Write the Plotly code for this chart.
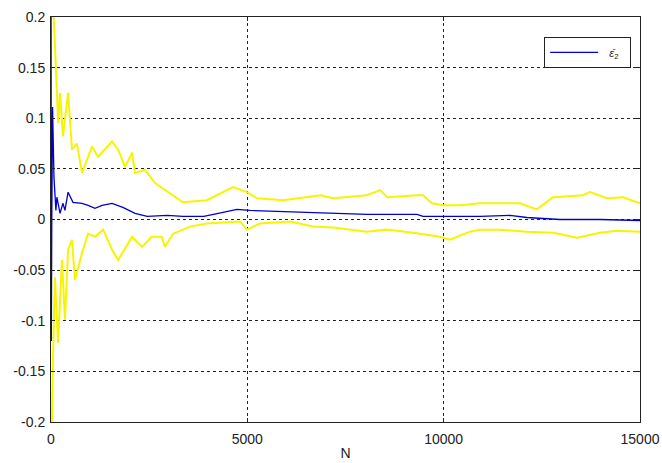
import plotly.graph_objects as go

# ---- data ----
upper_n = [1, 40, 70, 120, 185, 230, 305, 435, 535, 660, 790, 1045, 1195, 1555, 1710, 1885, 2065, 2140,
           2395, 2650, 3360, 3970, 4635, 4990, 5245, 5910, 6520, 6860, 7190, 8045, 8380, 8560, 9320, 9475,
           9700, 9985, 10415, 10925, 11945, 12375, 12785, 13550, 13725, 14160, 14570, 15000]
upper_y = [0.6, 0.25, 0.2, 0.158, 0.095, 0.125, 0.082, 0.125, 0.069, 0.075, 0.046, 0.072, 0.062, 0.077,
           0.069, 0.052, 0.066, 0.046, 0.049, 0.036, 0.017, 0.019, 0.032, 0.027, 0.021, 0.019, 0.022, 0.024,
           0.021, 0.024, 0.029, 0.022, 0.024, 0.024, 0.016, 0.014, 0.014, 0.016, 0.016, 0.010, 0.022, 0.024,
           0.027, 0.021, 0.022, 0.016]

lower_n = [1, 25, 50, 100, 180, 280, 355, 435, 535, 610, 790, 945, 1120, 1330, 1555, 1710, 2065, 2320,
           2560, 2820, 2900, 3110, 3540, 3970, 4815, 4990, 5320, 6090, 6670, 7180, 8045, 8560, 9220, 9905,
           10160, 10670, 10925, 11435, 12120, 12785, 13400, 13980, 14415, 15000]
lower_y = [-0.6, -0.2, -0.139, -0.057, -0.122, -0.040, -0.099, -0.030, -0.020, -0.060, -0.033, -0.014,
           -0.017, -0.010, -0.030, -0.040, -0.017, -0.027, -0.017, -0.017, -0.027, -0.014, -0.007, -0.004,
           -0.002, -0.010, -0.004, -0.002, -0.007, -0.008, -0.012, -0.010, -0.013, -0.017, -0.020, -0.012,
           -0.010, -0.010, -0.012, -0.013, -0.018, -0.013, -0.011, -0.012]

mean_n = [1, 8, 20, 40, 55, 75, 125, 150, 230, 305, 355, 435, 560, 790, 945, 1120, 1300, 1555, 1830,
          2140, 2450, 2960, 3360, 3890, 4380, 4735, 5070, 5830, 6340, 6850, 7180, 8045, 9320, 9475, 10925,
          11690, 12120, 12960, 13980, 14490, 15000]
mean_y = [0.25, -0.12, 0.0, 0.111, 0.075, 0.042, 0.009, 0.022, 0.006, 0.016, 0.009, 0.027, 0.017, 0.016,
          0.014, 0.011, 0.014, 0.016, 0.012, 0.006, 0.003, 0.004, 0.003, 0.003, 0.007, 0.010, 0.009, 0.008,
          0.007, 0.007, 0.006, 0.005, 0.005, 0.003, 0.003, 0.004, 0.002, 0.000, 0.000, -0.0003, -0.001]

x_ticks = [0, 5000, 10000, 15000]
x_labels = ["0", "5000", "10000", "15000"]
y_ticks = [-0.2, -0.15, -0.1, -0.05, 0, 0.05, 0.1, 0.15, 0.2]
y_labels = ["-0.2", "-0.15", "-0.1", "-0.05", "0", "0.05", "0.1", "0.15", "0.2"]

YELLOW = "#f5f500"
BLUE = "#0000d0"
FONT = "Liberation Sans, Arial"

fig = go.Figure()
fig.add_trace(go.Scatter(x=upper_n, y=upper_y, mode="lines", line=dict(color=YELLOW, width=2),
                         showlegend=False, hoverinfo="skip"))
fig.add_trace(go.Scatter(x=lower_n, y=lower_y, mode="lines", line=dict(color=YELLOW, width=2),
                         showlegend=False, hoverinfo="skip"))
fig.add_trace(go.Scatter(x=mean_n, y=mean_y, mode="lines", line=dict(color=BLUE, width=1.3),
                         name="  <i>ε̄</i><sub>2</sub>  "))

axis_common = dict(
    showline=True, linecolor="#222", linewidth=1, mirror="ticks",
    ticks="inside", ticklen=4, tickcolor="#222",
    showgrid=True, gridcolor="#222", gridwidth=1, griddash="3px,3px",
    zeroline=False, automargin=False,
    tickfont=dict(family=FONT, size=14, color="#222"),
)

fig.update_layout(
    width=662, height=463,
    margin=dict(l=51, r=22, t=17, b=41),
    paper_bgcolor="white", plot_bgcolor="white",
    xaxis=dict(range=[0, 15000], tickvals=x_ticks, ticktext=x_labels, ticklabelstandoff=4,
               title=dict(text="N", font=dict(family=FONT, size=14, color="#222"), standoff=2),
               **axis_common),
    yaxis=dict(range=[-0.2, 0.2], tickvals=y_ticks, ticktext=y_labels, ticklabelstandoff=2,
               **axis_common),
    legend=dict(x=0.985, y=0.951, xanchor="right", yanchor="top",
                bgcolor="white", bordercolor="#222", borderwidth=1,
                font=dict(family=FONT, size=11, color="#222"),
                itemwidth=48, tracegroupgap=0),
    showlegend=True,
)

fig.write_html("out.html")
